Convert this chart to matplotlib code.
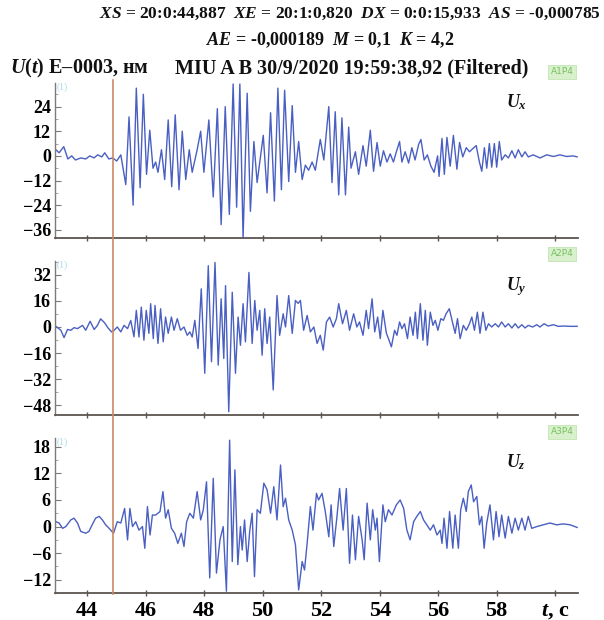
import matplotlib
matplotlib.use('Agg')
import matplotlib.pyplot as plt
from matplotlib.lines import Line2D
from matplotlib.ticker import FixedLocator, AutoMinorLocator

plt.rcParams['font.family'] = ['Liberation Serif', 'DejaVu Serif']
plt.rcParams['font.weight'] = 'bold'
plt.rcParams['mathtext.fontset'] = 'custom'
plt.rcParams['mathtext.it'] = 'Liberation Serif:italic:bold'
plt.rcParams['mathtext.rm'] = 'Liberation Serif:bold'
plt.rcParams['mathtext.bf'] = 'Liberation Serif:bold'

# ---------------- data ----------------
XS_t = 44.887

ux_t = [42.93, 43.04, 43.2, 43.34, 43.47, 43.6, 43.78, 43.95, 44.09, 44.23, 44.36, 44.5, 44.6, 44.74,
        44.87, 45.01, 45.15, 45.32, 45.43, 45.57, 45.68, 45.81, 45.92, 46.03, 46.14, 46.25, 46.34,
        46.42, 46.54, 46.65, 46.77, 46.89, 47.01, 47.14, 47.25, 47.37, 47.49, 47.59, 47.76, 47.88,
        47.99, 48.16, 48.31, 48.45, 48.58, 48.72, 48.86, 48.99, 49.11, 49.22, 49.33, 49.47, 49.58,
        49.7, 49.81, 50.02, 50.15, 50.27, 50.4, 50.52, 50.64, 50.75, 50.89, 51.01, 51.12, 51.23,
        51.35, 51.46, 51.57, 51.69, 51.8, 51.97, 52.09, 52.26, 52.37, 52.48, 52.6, 52.71, 52.83,
        52.94, 53.02, 53.17, 53.28, 53.43, 53.54, 53.68, 53.79, 53.91, 54.02, 54.13, 54.25, 54.36,
        54.47, 54.57, 54.68, 54.76, 54.87, 54.99, 55.1, 55.21, 55.33, 55.41, 55.52, 55.63, 55.75,
        55.86, 55.98, 56.03, 56.13, 56.21, 56.3, 56.41, 56.52, 56.64, 56.73, 56.84, 56.96, 57.07,
        57.18, 57.3, 57.41, 57.49, 57.58, 57.66, 57.75, 57.83, 57.92, 58.0, 58.09, 58.17, 58.29,
        58.4, 58.52, 58.63, 58.74, 58.86, 58.97, 59.08, 59.25, 59.48, 59.71, 59.94, 60.16, 60.39,
        60.61, 60.75]
ux_v = [3, 1.5, 4.5, -1.5, 0, -2, -1, -1.5, 0, -1, 0.5, -0.5, 1.5, -1.5,
        -1, -2.5, 0.5, -14, 19, -24, 33, -15.5, 30, -9, 12.5, -6, -3,
        -8, 3, -11.5, 17.5, -15, 20, -16.5, 12, -11.5, 3, -8, 3, 12,
        -8, 17.5, -20, 23, -33.5, 24, -28.5, 35, -25, 35, -40, 30.5, -27,
        7, -13, 10, -18, 21, -22, 33, -16.5, 32, -12.5, 24.5, -8, 7,
        -11.5, -4.5, -7, -3, -7, 8, -2, 24, -13, 21.5, -19, 18.5, -19,
        14, -6, 2, -9, 5, -5, 12.5, -7.5, 6.5, -5, 2.5, -3, 1,
        -3, 2, 7, -3, 2, -3.5, 4, -2, 5.5, 8, -2, 0.5, -5,
        -8, 0, -10, 8.5, -9, 9, -5, 10, -6.5, 6.5, -0.5, 4, 2,
        3.5, 5, -3, -7.5, 4, -6, 6, -5.5, 6, -5.5, 7, -2, 0.5,
        -1, 2.5, -1, 3, -0.5, 2, -0.5, 0.5, -1, 0.5, -0.3, 0.5, -0.3,
        0, -0.5]

uy_t = [42.93, 43.10, 43.21, 43.33, 43.44, 43.55, 43.67, 43.84, 43.95, 44.10, 44.24, 44.35, 44.46,
        44.60, 44.71, 44.83, 44.92, 45.03, 45.15, 45.26, 45.38, 45.49, 45.60, 45.68, 45.77, 45.85,
        45.94, 46.02, 46.11, 46.17, 46.26, 46.32, 46.42, 46.51, 46.60, 46.68, 46.77, 46.88, 46.97,
        47.08, 47.19, 47.31, 47.42, 47.51, 47.59, 47.68, 47.79, 47.90, 48.02, 48.14, 48.25, 48.37,
        48.48, 48.58, 48.67, 48.73, 48.84, 48.96, 49.07, 49.16, 49.24, 49.33, 49.41, 49.53, 49.64,
        49.73, 49.81, 49.90, 49.98, 50.07, 50.15, 50.24, 50.36, 50.49, 50.58, 50.70, 50.78, 50.89,
        51.01, 51.12, 51.21, 51.29, 51.40, 51.52, 51.63, 51.75, 51.86, 51.97, 52.07, 52.18, 52.29,
        52.41, 52.52, 52.60, 52.73, 52.86, 52.97, 53.11, 53.22, 53.31, 53.43, 53.54, 53.62, 53.74,
        53.83, 53.93, 54.02, 54.11, 54.23, 54.30, 54.40, 54.51, 54.59, 54.68, 54.76, 54.85, 54.95,
        55.04, 55.14, 55.22, 55.29, 55.39, 55.48, 55.56, 55.63, 55.73, 55.82, 55.90, 55.99, 56.09,
        56.18, 56.27, 56.38, 56.50, 56.58, 56.66, 56.75, 56.86, 56.96, 57.07, 57.15, 57.24, 57.34,
        57.43, 57.53, 57.63, 57.72, 57.83, 57.95, 58.06, 58.17, 58.29, 58.40, 58.52, 58.63, 58.74,
        58.86, 58.97, 59.08, 59.23, 59.37, 59.48, 59.62, 59.76, 59.94, 60.11, 60.28, 60.51, 60.75]
uy_v = [0.4, -2, -6.5, -1.5, -2, -0.4, -1, 1, -2, 3.5, -1.5, 1, 5,
        2.5, -0.5, -3, -2, 0, -3, 1, -1, 4, -6, 10.2, -6.1, 12.2,
        -8.1, 10.2, -3.9, 14.3, -7.1, 13.2, -10.1, 11.2, -9.1, 6.1, -3.9, 6.1, -2,
        5.1, -2, 0, -5.1, -3, -6.1, 4.1, -13.2, 23.4, -28.4, 37.6, -21.3, 39.6,
        -23.4, 17.3, -19.3, 25.4, -52, 21.3, -28.4, 6.1, -11.2, 14.3, -9.1, 33.5, -10.1,
        16.3, -2, 10.2, -17.3, 11.2, -10.1, 6.1, -38.6, 19.3, -5.1, 8.1, 0, 19.3,
        -3.9, 16.3, 14.5, 16.3, -2, 7.1, -3, 0, -10.1, -5.1, -14.2, 3.1, 6.1,
        0, 5.1, 14.3, 2, 10.2, -2, 8.1, 0, 3.1, -5.1, 10.2, -1, 17.3,
        -3, 6.1, -7.1, 10.2, -3.9, -7.1, -12.2, -2, -5.1, 3.1, -1, 2, -7.1,
        6.1, -5.1, 9.1, -7.1, 14.3, -8.1, 10.2, -11.2, 9.1, 1, 4.1, -2, 5.1,
        4.1, 8.1, 11.2, 2, -3.9, 5.1, -7.1, 1, -2, 2, 6.1, -2, 9.1,
        -3.9, 9.1, -2, 2, 0, 2, 0, 3.1, 0, 2, -0.6, 2, -0.6,
        1.4, -0.6, 1, 0, 1.4, 0, 2, 0.6, 1.4, 0.4, 0.6, 0.4, 0.4]

uz_t = [42.93, 43.04, 43.16, 43.27, 43.44, 43.55, 43.67, 43.78, 43.95, 44.06, 44.17, 44.29, 44.41,
        44.52, 44.63, 44.75, 44.90, 45.03, 45.15, 45.28, 45.38, 45.46, 45.55, 45.66, 45.77, 45.89,
        45.97, 46.06, 46.15, 46.23, 46.34, 46.49, 46.59, 46.68, 46.77, 46.88, 46.99, 47.10, 47.22,
        47.31, 47.40, 47.51, 47.63, 47.76, 47.88, 47.97, 48.08, 48.19, 48.31, 48.42, 48.54, 48.65,
        48.76, 48.87, 48.96, 49.05, 49.15, 49.24, 49.30, 49.38, 49.47, 49.56, 49.64, 49.72, 49.81,
        49.92, 50.04, 50.15, 50.27, 50.38, 50.49, 50.61, 50.70, 50.78, 50.89, 51.01, 51.12, 51.23,
        51.35, 51.43, 51.52, 51.63, 51.72, 51.84, 51.91, 52.03, 52.14, 52.26, 52.34, 52.43, 52.54,
        52.63, 52.75, 52.86, 52.97, 53.07, 53.17, 53.28, 53.40, 53.47, 53.57, 53.68, 53.76, 53.85,
        53.91, 53.99, 54.11, 54.19, 54.30, 54.42, 54.57, 54.70, 54.82, 54.93, 55.04, 55.16, 55.27,
        55.39, 55.50, 55.61, 55.73, 55.84, 55.96, 56.07, 56.13, 56.20, 56.30, 56.39, 56.50, 56.58,
        56.69, 56.77, 56.86, 56.96, 57.03, 57.13, 57.21, 57.32, 57.41, 57.49, 57.57, 57.66, 57.77,
        57.89, 57.98, 58.08, 58.17, 58.29, 58.40, 58.52, 58.63, 58.74, 58.86, 58.97, 59.08, 59.20,
        59.37, 59.60, 59.82, 60.05, 60.28, 60.51, 60.75]
uz_v = [1.1, 0.8, -0.4, 0, 1.5, 1.9, 0.8, -1.1, -1.5, -1.1, 0.4, 1.9, 2.3,
        1.5, 0.4, -0.4, -1.5, 1.1, 0.8, 4.1, -3, 4.1, 0, 1.1, -0.8, 0,
        -4.9, 4.5, -1.9, 2.6, 2.6, 3.4, 7.9, 1.9, 3.8, -0.4, -1.5, -3.8, -1.5,
        -4.5, 1.1, 3, 1.9, 7.9, 1.5, 3.8, 10.1, -11.6, 10.9, -10.5, -3, 0,
        -14.6, 19.5, -7.9, 12.8, -8.6, 0, -5.3, 1.5, -7.9, -0.8, 3, -11.3, 3.8,
        3, 9.8, 8.3, 3, 9, 1.5, 13.9, 4.5, 6.4, 1.5, -0.8, -4.1, -14.3,
        -7.9, -9.8, -3.8, 4.5, -0.8, 7.5, 6, 7.5, 3.4, -2.3, 4.9, -4.5, 2.3,
        8.6, -0.8, 8.6, -8.3, 2.6, -7.5, 2.3, -3, -7.5, 5.3, -3, 3.8, -0.8,
        1.9, -7.9, 4.9, 1.1, 3.8, 2.6, 4.9, 6, 4.1, -0.8, -3, 1.1, 2.3,
        3.4, 1.5, 0.4, -0.8, 0.4, -1.9, -0.8, -3.8, 1.9, -4.9, 3.4, -4.9, 2.6,
        -4.9, 3.8, 6.4, 3.4, 7.9, 9.4, 5.6, 6.8, 0.4, 2.3, -4.9, 0.8, 4.9,
        -3, 3.4, -2.3, 2.6, -2.6, 2.3, -1.5, 1.9, -0.8, 1.9, -0.8, 2.3, -0.4,
        0, 0.4, 0.8, 0.4, 0.6, 0.4, -0.2]

ux_ticks = [-36, -24, -12, 0, 12, 24]
uy_ticks = [-48, -32, -16, 0, 16, 32]
uz_ticks = [-12, -6, 0, 6, 12, 18]
x_ticks = [44, 46, 48, 50, 52, 54, 56, 58, 60]
x_labels = ['44', '46', '48', '50', '52', '54', '56', '58', r'$t$, с']

header1 = r"$XS$ = 20:0:44,887  $XE$ = 20:1:0,820  $DX$ = 0:0:15,933  $AS$ = -0,000785"
header2 = r"$AE$ = -0,000189  $M$ = 0,1  $K$ = 4,2"
header3a = r"$U$($t$) E–0003, нм"
header3b = "MIU A B 30/9/2020 19:59:38,92 (Filtered)"
panel_names = [r"$U_x$", r"$U_y$", r"$U_z$"]
box_labels = ["A1P4", "A2P4", "A3P4"]

# ---------------- figure ----------------
W, H = 604, 620
fig = plt.figure(figsize=(W / 100, H / 100), dpi=100)
fig.patch.set_facecolor('white')

def fx(px):
    return px / W

def fy(py):
    return 1 - py / H

sig_color = '#4a5fc2'
axis_color = '#5c5550'
red_color = '#c98a66'

panels = [
    dict(t=ux_t, v=ux_v, ticks=ux_ticks, ylim=(-40, 35.5), top=83, bottom=238),
    dict(t=uy_t, v=uy_v, ticks=uy_ticks, ylim=(-54, 40.5), top=261, bottom=415),
    dict(t=uz_t, v=uz_v, ticks=uz_ticks, ylim=(-15, 20), top=438, bottom=593),
]

left_px, right_px = 55, 578
axes = []
for i, p in enumerate(panels):
    ax = fig.add_axes([fx(left_px), fy(p['bottom']), fx(right_px - left_px),
                       (p['bottom'] - p['top']) / H])
    ax.plot(p['t'], p['v'], color=sig_color, lw=1.0, clip_on=False, solid_joinstyle='round')
    ax.set_xlim(42.9, 60.78)
    ax.set_ylim(*p['ylim'])
    for s in ['top', 'right']:
        ax.spines[s].set_visible(False)
    ax.spines['bottom'].set_color(axis_color)
    ax.spines['bottom'].set_linewidth(1.3)
    ax.spines['left'].set_color('#7d7a78')
    ax.spines['left'].set_linewidth(1.0)
    ax.xaxis.set_major_locator(FixedLocator(x_ticks))
    ax.yaxis.set_major_locator(FixedLocator(p['ticks']))
    ax.yaxis.set_minor_locator(AutoMinorLocator(2))
    ax.tick_params(axis='x', direction='inout', length=5, width=1.0, color=axis_color)
    ax.tick_params(axis='y', which='major', direction='in', length=4, width=0.8,
                   color='#7d7a78', labelsize=13, pad=3)
    ax.tick_params(axis='y', which='minor', direction='in', length=2, width=0.6, color='#9a9896')
    for lab in ax.get_yticklabels():
        lab.set_fontweight('bold')
    if i < 2:
        ax.set_xticklabels([])
    else:
        ax.set_xticklabels(x_labels, fontsize=16, fontweight='bold')
        ax.tick_params(axis='x', pad=3)
    ax.patch.set_alpha(0)
    axes.append(ax)

# panel names and box labels
name_pos = [(516, 102), (516, 287), (516, 462)]
box_pos = [(562, 72), (562, 254), (562, 432)]
for i in range(3):
    fig.text(fx(name_pos[i][0]), fy(name_pos[i][1]), panel_names[i], fontsize=13,
             ha='center', va='center', color='#111111')
    fig.text(fx(box_pos[i][0]), fy(box_pos[i][1]), box_labels[i], fontsize=6.5,
             family='DejaVu Sans', fontweight='normal', ha='center', va='center', color='#78c060',
             bbox=dict(boxstyle='square,pad=0.25', facecolor='#d8f0cc', edgecolor='#c2e4b2', lw=0.6))
    fig.text(fx(57), fy(panels[i]['top'] + 4), "(1)", fontsize=7, color='#a9dbe6',
             fontweight='normal', ha='left', va='center')

# red vertical marker line across all panels
x_disp = axes[0].transData.transform((XS_t, 0))[0]
x_fig = x_disp / fig.bbox.width
fig.add_artist(Line2D([x_fig, x_fig], [fy(80), fy(594)], color=red_color, lw=1.2,
                      transform=fig.transFigure))

# header texts
fig.text(fx(601), fy(14), header1, fontsize=12.5, ha='right', va='center', color='#111111')
fig.text(fx(330), fy(40), header2, fontsize=13, ha='center', va='center', color='#111111')
fig.text(fx(10), fy(68), header3a, fontsize=14.5, ha='left', va='center', color='#111111')
fig.text(fx(528), fy(68), header3b, fontsize=14.5, ha='right', va='center', color='#111111')

fig.savefig('out.png', dpi=100, facecolor='white')
